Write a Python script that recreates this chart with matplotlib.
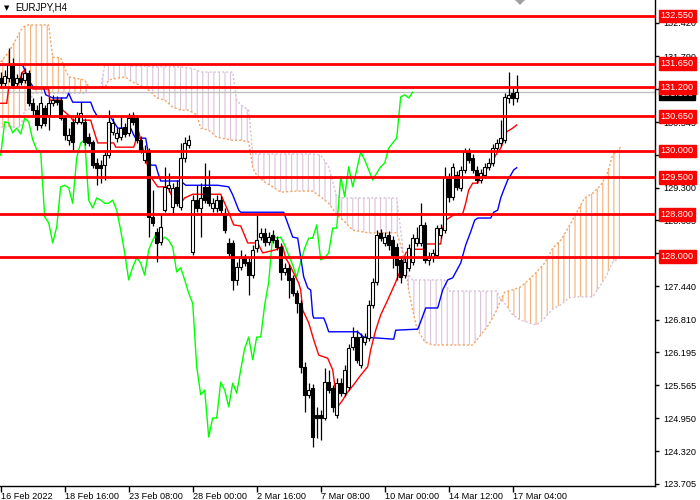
import numpy as np
import matplotlib
matplotlib.use("Agg")
import matplotlib.pyplot as plt
from matplotlib.patches import Polygon

plt.rcParams['font.family'] = ['Liberation Sans', 'DejaVu Sans']
plt.rcParams['hatch.linewidth'] = 0.8

# ---------------- data ----------------
opens = [131.38,131.28,131.38,131.62,131.28,131.38,131.34,131.47,130.90,130.77,
         130.49,130.81,130.68,130.90,130.96,130.96,130.62,130.21,130.55,130.55,
         130.55,130.55,130.26,130.17,129.77,129.73,129.73,129.92,130.36,130.24,
         130.26,130.45,130.34,130.68,130.62,130.21,129.83,130.02,128.75,128.47,
         128.28,128.88,129.30,128.94,129.32,128.94,129.87,130.11,128.09,129.07,
         128.92,129.32,129.32,128.92,128.92,129.07,128.83,128.26,128.26,127.56,
         127.80,127.98,127.90,127.65,128.16,128.37,128.45,128.28,128.41,128.31,
         128.18,127.71,127.79,127.60,127.31,127.12,125.92,125.39,125.52,125.01,
         125.01,124.95,125.63,125.52,125.01,125.61,125.42,125.54,126.29,126.48,
         125.95,126.39,126.46,127.09,127.52,128.45,128.26,128.41,128.31,128.18,
         127.94,127.65,127.79,127.90,128.26,128.26,128.60,127.94,127.99,128.03,
         128.41,128.50,129.51,129.13,129.54,129.30,129.64,129.98,129.86,129.64,
         129.45,129.54,129.70,129.77,130.05,130.15,130.21,131.00,131.09,131.00]
highs = [131.49,131.53,131.94,131.76,131.45,131.49,131.57,131.53,131.00,130.87,
         131.04,130.87,131.02,131.06,131.04,131.02,130.68,130.43,130.62,130.74,
         130.92,130.62,130.34,130.21,129.86,129.83,130.02,130.77,130.62,130.43,
         130.64,130.53,130.72,130.74,130.68,130.28,130.11,130.05,129.26,128.54,
         128.83,129.70,129.58,129.39,129.45,130.15,130.26,130.30,129.17,129.35,
         129.39,129.77,129.64,129.11,129.17,129.15,128.92,128.35,128.31,127.90,
         128.13,128.05,127.98,128.22,128.79,128.54,128.54,128.47,128.50,128.39,
         128.26,127.88,127.86,127.65,127.37,127.18,126.01,125.61,125.59,125.16,
         125.10,125.90,125.86,125.57,125.71,125.71,125.95,126.35,126.67,126.61,
         126.56,126.56,127.18,127.60,128.50,128.52,128.47,128.49,128.39,128.26,
         128.01,127.98,128.24,128.43,128.56,129.01,128.66,128.09,128.14,128.60,
         128.62,129.70,129.58,129.77,129.62,129.71,130.05,130.05,129.94,129.71,
         129.66,129.77,129.86,130.13,130.22,130.58,131.09,131.49,131.19,131.43]
lows = [131.19,131.23,131.30,131.19,131.23,131.25,131.28,130.85,130.68,130.39,
        130.43,130.47,130.39,130.85,130.87,130.58,130.21,130.11,130.02,130.51,
        130.51,130.11,130.09,129.68,129.35,129.39,129.45,129.86,130.30,130.17,
        130.21,130.26,130.28,130.49,130.15,129.96,129.77,128.37,128.58,127.90,
        128.22,128.84,129.22,128.83,128.96,128.88,129.79,130.05,128.03,128.84,
        128.37,129.01,128.96,128.84,128.84,128.81,128.45,127.99,127.37,127.47,
        127.75,127.82,127.28,127.60,128.09,128.31,128.20,128.22,128.26,128.13,
        127.56,127.65,127.22,127.26,126.94,125.80,125.06,125.33,124.40,124.57,
        124.53,124.91,125.42,125.06,124.95,125.37,125.37,125.48,126.24,125.99,
        125.90,126.33,126.41,127.03,127.47,128.30,128.20,128.13,127.79,127.56,
        127.50,127.60,127.73,127.84,128.20,128.20,127.88,127.84,127.90,127.98,
        128.35,128.45,129.03,129.07,129.26,129.24,129.58,129.77,129.58,129.39,
        129.39,129.49,129.64,129.71,130.00,130.09,130.15,130.90,130.87,130.92]
closes = [131.28,131.42,131.62,131.25,131.38,131.30,131.47,130.90,130.77,130.49,
          130.90,130.53,130.90,130.96,130.92,130.62,130.30,130.30,130.17,130.64,
          130.72,130.17,130.15,129.73,129.68,129.68,129.92,130.55,130.53,130.34,
          130.43,130.32,130.62,130.55,130.21,130.02,129.98,128.75,128.64,128.26,
          128.56,129.32,129.35,129.30,129.01,129.87,130.15,130.21,129.07,128.92,
          129.11,129.07,129.01,129.01,129.07,128.88,128.50,128.07,127.56,127.80,
          127.98,127.88,127.65,128.13,128.31,128.45,128.28,128.37,128.31,128.18,
          127.71,127.79,127.56,127.31,127.12,125.92,125.39,125.48,124.59,124.95,
          124.95,125.63,125.48,125.16,125.61,125.42,125.86,126.27,126.48,126.05,
          126.48,126.48,127.09,127.52,128.41,128.35,128.37,128.22,128.03,127.84,
          127.62,127.90,128.16,128.35,128.35,128.60,127.94,127.98,128.07,128.54,
          128.54,129.51,129.13,129.70,129.32,129.64,129.98,129.83,129.64,129.45,
          129.58,129.70,129.77,130.05,130.15,130.24,131.02,131.06,131.00,131.108]

# Tenkan-sen (red): bar positions and prices
tenkan_bar = [0,1.5,2,4,4.5,5.5,6,7,8,12,12.25,15,15.5,17.5,18,22.5,23,24.25,28.25,28.75,
              33.25,34.5,35.75,37.5,39.25,41.75,43.25,45,46,48,55,56.75,58.25,60,61.75,
              64.25,65.5,68.75,70.5,71.25,72,74.5,75,75.5,77,78.25,79.5,81.75,83,84.25,
              85.5,86.75,88.25,90,91.75,92.5,93.75,95,96.75,98.75,100,101.25,102.5,105.75,
              106.25,110,110.5,111.25,113.25,115.5,116.25,117,118,119.25,120,121.25,122.5,
              123.75,125,125.75,126.5,128,129]
tenkan_val = [130.90,130.90,131.19,131.19,131.30,131.49,131.53,131.25,131.17,131.17,130.96,
              130.96,130.77,130.64,130.58,130.58,130.45,130.15,130.15,130.07,130.07,130.36,
              129.98,129.51,129.32,129.32,129.07,129.01,129.11,129.18,129.18,128.88,128.60,
              128.58,128.26,128.26,128.07,128.13,128.20,127.97,127.88,127.50,127.37,126.99,
              126.75,126.43,126.14,126.08,125.86,125.16,125.29,125.44,125.58,125.76,125.92,
              126.24,126.61,126.90,127.18,127.52,127.75,128.07,128.14,128.14,128.24,128.24,
              128.54,128.69,128.79,128.81,129.01,129.26,129.39,129.39,129.52,129.64,129.73,
              129.92,130.05,130.20,130.36,130.43,130.49]

# Kijun-sen (blue)
kijun_bar = [0,5.5,6,7,8.25,10.75,11.25,13,16.5,17,17.5,18,22.5,23.25,24.25,27.5,28.25,29.25,
             32.5,33.25,33.75,36.25,36.75,37.5,38.75,39.25,40,45,46.25,54.25,57,58,59.5,60,
             70.75,73,74.25,75,75.75,76.75,77.5,78,78.25,80.75,81.25,82,89.25,90.75,98.25,
             98.75,104.25,105,106.25,109.25,110.5,111.75,113,115,116.25,117.5,118.5,119.25,
             122.5,123.25,124.25,125,125.75,126.75,127.5,128.25,129]
kijun_val = [131.62,131.62,131.53,131.34,131.19,131.19,131.06,131.00,131.00,131.09,131.00,
             130.92,130.92,130.77,130.64,130.64,130.55,130.43,130.43,130.30,130.24,130.24,
             130.02,129.73,129.73,129.60,129.43,129.43,129.35,129.35,129.32,129.17,128.88,
             128.84,128.84,128.37,128.35,127.99,127.62,127.41,127.37,126.90,126.84,126.84,
             126.75,126.58,126.58,126.48,126.44,126.61,126.63,126.77,127.03,127.03,127.37,
             127.56,127.60,127.88,128.22,128.47,128.69,128.73,128.73,128.84,128.88,129.11,
             129.26,129.45,129.54,129.64,129.68]

# Senkou spans (cloud), shifted 26 bars ahead
cloud_bar = [0,2,4,5,6,7,8,12,13,15,16,17,21,22,25,26,27,31,33,35,37,39,41,43,45,47,49,50,
             52,54,58,59,60,62,63,64,66,68,70,74,78,80,82,84,86,88,92,99,100,101,102,103,
             104,106,108,111,112,118,120,122,124,125,126,128,130,132,134,136,138,140,142,
             144,146,148,150,151.5,153,155]
span_a = [131.68,131.87,132.13,132.28,132.36,132.38,132.38,132.38,131.77,131.76,131.57,
          131.40,131.34,131.21,131.21,131.19,131.34,131.40,131.30,131.23,131.15,131.00,
          130.96,130.83,130.77,130.77,130.68,130.43,130.39,130.26,130.20,130.20,130.20,
          130.17,129.68,129.54,129.41,129.32,129.22,129.24,129.24,129.13,129.01,128.79,
          128.66,128.50,128.45,128.45,128.22,127.90,127.37,126.99,126.65,126.39,126.33,
          126.33,126.33,126.33,126.52,126.71,126.99,127.18,127.33,127.37,127.43,127.56,
          127.71,127.88,128.16,128.31,128.56,128.84,129.11,129.20,129.35,129.54,129.92,
          130.07]
span_b = [130.45,130.45,130.45,130.45,130.77,130.77,131.09,131.09,131.09,131.09,131.09,
          131.09,131.09,131.19,131.19,131.62,131.62,131.62,131.60,131.60,131.60,131.59,
          131.59,131.59,131.59,131.57,131.53,131.49,131.49,131.49,131.49,130.96,130.87,
          130.77,129.96,129.94,129.94,129.94,129.94,129.94,129.94,129.92,129.70,129.13,
          129.11,129.11,129.11,129.11,128.50,127.84,127.65,127.56,127.56,127.56,127.56,
          127.56,127.35,127.35,127.35,127.35,127.35,127.18,127.12,126.90,126.80,126.75,
          126.71,126.84,127.01,127.09,127.22,127.24,127.24,127.24,127.47,127.65,127.90,
          127.98]

levels = [132.55, 131.65, 131.20, 130.65, 130.00, 129.50, 128.80, 128.00]
price_ticks = [132.420, 131.790, 131.165, 130.545, 129.930, 129.300, 128.685, 128.065,
               127.440, 126.810, 126.195, 125.565, 124.950, 124.320, 123.705]
time_tick_bars = [0, 16, 32, 48, 64, 80, 96, 112, 128]
time_labels = ['16 Feb 2022', '18 Feb 16:00', '23 Feb 08:00', '28 Feb 00:00', '2 Mar 16:00',
               '7 Mar 08:00', '10 Mar 00:00', '14 Mar 12:00', '17 Mar 04:00']
last_price = 131.108
title = 'EURJPY,H4'

# ---------------- plot ----------------
W, H = 700, 500
FS = 6.6
fig = plt.figure(figsize=(W / 100, H / 100), dpi=100)
ax = fig.add_axes([0, 14 / H, 655 / W, 486 / H])

o = np.array(opens); h = np.array(highs); l = np.array(lows); c = np.array(closes)
bars = np.arange(len(o))
ca = np.array(cloud_bar); sa = np.array(span_a); sb = np.array(span_b)

# cloud
orange = '#F4A460'
thistle = '#D8BFD8'
ax.fill_between(ca, sa, sb, where=sa >= sb, interpolate=True, facecolor='none',
                edgecolor=orange, hatch='|||', linewidth=0, alpha=0.85, zorder=1)
ax.fill_between(ca, sa, sb, where=sa < sb, interpolate=True, facecolor='none',
                edgecolor=thistle, hatch='|||', linewidth=0, alpha=0.95, zorder=1)
ax.plot(ca, sa, color=orange, lw=1, ls=(0, (1.5, 1.5)), zorder=1.2)
ax.plot(ca, sb, color=thistle, lw=1, ls=(0, (1.5, 1.5)), zorder=1.2)

# current price line
ax.axhline(last_price, color='#C0C0C0', lw=1, zorder=1.5)

# chikou span (close shifted back 26 bars)
ax.plot(bars[26:] - 26, c[26:], color='#00FF00', lw=1, zorder=2)

# tenkan / kijun
ax.plot(tenkan_bar, tenkan_val, color='#FF0000', lw=1, zorder=2.2)
ax.plot(kijun_bar, kijun_val, color='#0000FF', lw=1, zorder=2.1)

# candles
ax.vlines(bars, l, h, color='black', lw=0.9, zorder=3)
bull = c >= o
body_low = np.minimum(o, c)
body_h = np.maximum(np.abs(c - o), 0.012)
ax.bar(bars, body_h, bottom=body_low, width=0.72,
       color=np.where(bull, 'white', 'black'), edgecolor='black', linewidth=0.8, zorder=3.5)

# horizontal levels
for lv in levels:
    ax.axhline(lv, color='#FF0000', lw=2, zorder=5)

ax.set_xlim(-0.175, -0.175 + 655 / 4)
ax.set_ylim(132.852 - 486 * 0.018904, 132.852)

# axes styling
for s in ['top', 'left']:
    ax.spines[s].set_visible(False)
for s in ['right', 'bottom']:
    ax.spines[s].set_color('black')
    ax.spines[s].set_linewidth(1)

ax.yaxis.tick_right()
ax.set_yticks(price_ticks)
ax.set_yticklabels(['%.3f' % t for t in price_ticks])
ax.tick_params(axis='y', direction='out', length=3, width=1, pad=3, labelsize=FS,
               colors='black')
ax.set_xticks(time_tick_bars)
ax.set_xticklabels(time_labels, ha='left')
ax.tick_params(axis='x', direction='out', length=4, width=1, pad=0.5, labelsize=FS)
for lab in ax.get_xticklabels():
    lab.set_horizontalalignment('left')

# price label boxes
ax.annotate('%.3f' % last_price, xy=(1, last_price), xycoords=('axes fraction', 'data'),
            xytext=(4, -1), textcoords='offset points', color='white', fontsize=FS,
            va='center', ha='left', zorder=10, annotation_clip=False,
            bbox=dict(boxstyle='square,pad=0.2', fc='black', ec='black'))
for lv in levels:
    ax.annotate('%.3f' % lv, xy=(1, lv), xycoords=('axes fraction', 'data'),
                xytext=(4, 0), textcoords='offset points', color='white', fontsize=FS,
                va='center', ha='left', zorder=11, annotation_clip=False,
                bbox=dict(boxstyle='square,pad=0.2', fc='#FF0000', ec='#FF0000'))

# title
fig.text(4 / W, 1 - 8 / H, '\u25BC', fontsize=5, va='center', ha='left',
         family=['DejaVu Sans'])
fig.text(15 / W, 1 - 8 / H, title, fontsize=FS + 0.4, va='center', ha='left')
# chart-shift marker (grey triangle at top edge)
fig.patches.append(Polygon([[515 / W, 1.0], [525 / W, 1.0], [520 / W, 1 - 5 / H]],
                           closed=True, transform=fig.transFigure, facecolor='#A0A0A0',
                           edgecolor='none', figure=fig))

fig.savefig('out.png', dpi=100, facecolor='white')
